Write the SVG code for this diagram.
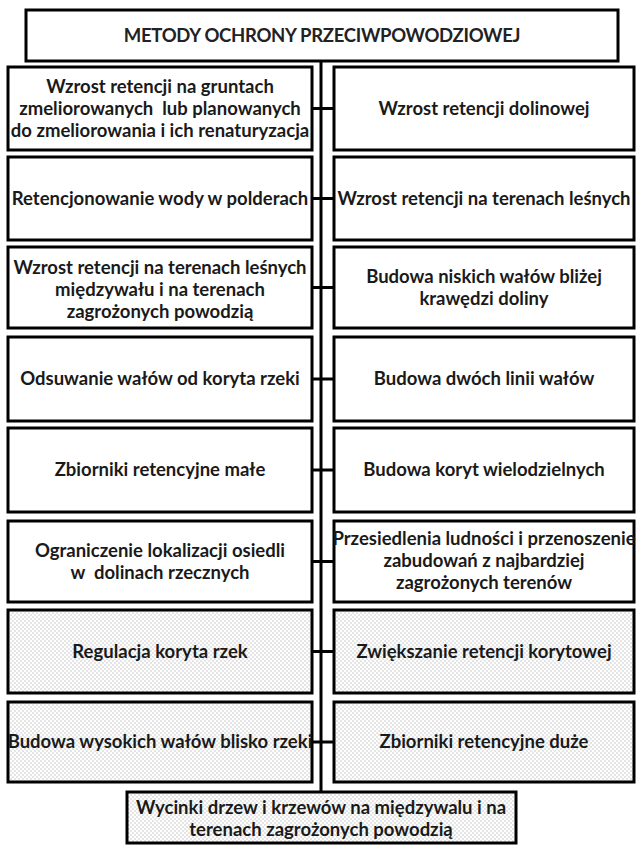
<svg xmlns="http://www.w3.org/2000/svg" width="640" height="848" viewBox="0 0 640 848">
<defs>
<pattern id="dots" width="4" height="4" patternUnits="userSpaceOnUse">
<rect width="4" height="4" fill="#ffffff"/>
<circle cx="1" cy="1" r="0.7" fill="#b8b8b8"/>
<circle cx="3" cy="3" r="0.7" fill="#b8b8b8"/>
</pattern>
</defs>
<style>
.box{fill:#ffffff;stroke:#000;stroke-width:3}
.dot{fill:url(#dots);stroke:#000;stroke-width:3}
.t{font-family:Lato,"Open Sans","Liberation Sans",sans-serif;font-weight:bold;font-size:18.5px;fill:#1a1a1a;text-anchor:middle;white-space:pre}
.title{font-family:Lato,"Open Sans","Liberation Sans",sans-serif;font-weight:bold;font-size:18.5px;fill:#222;text-anchor:middle;letter-spacing:-0.3px}
.c{stroke:#000;stroke-width:3;fill:none}
</style>
<g id="connectors">
<line class="c" x1="321" y1="61" x2="321" y2="792"/>
<line class="c" x1="312" y1="108.5" x2="334" y2="108.5"/>
<line class="c" x1="312" y1="198.5" x2="334" y2="198.5"/>
<line class="c" x1="312" y1="287.5" x2="334" y2="287.5"/>
<line class="c" x1="312" y1="379" x2="334" y2="379"/>
<line class="c" x1="312" y1="470" x2="334" y2="470"/>
<line class="c" x1="312" y1="561.5" x2="334" y2="561.5"/>
<line class="c" x1="312" y1="651.5" x2="334" y2="651.5"/>
<line class="c" x1="312" y1="742" x2="334" y2="742"/>
</g>
<g id="title">
<rect class="box" x="26" y="10" width="592" height="51"/>
<text class="title" x="322" y="42">METODY OCHRONY PRZECIWPOWODZIOWEJ</text>
</g>
<g id="n1L">
<rect class="box" x="8" y="67" width="304" height="83"/>
<text class="t" x="160" y="93">Wzrost retencji na gruntach</text>
<text class="t" x="160" y="115">zmeliorowanych  lub planowanych</text>
<text class="t" x="160" y="137">do zmeliorowania i ich renaturyzacja</text>
</g>
<g id="n1R">
<rect class="box" x="334" y="67" width="300" height="83"/>
<text class="t" x="484" y="115">Wzrost retencji dolinowej</text>
</g>
<g id="n2L">
<rect class="box" x="8" y="157" width="304" height="83"/>
<text class="t" x="160" y="205">Retencjonowanie wody w polderach</text>
</g>
<g id="n2R">
<rect class="box" x="334" y="157" width="300" height="83"/>
<text class="t" x="484" y="205">Wzrost retencji na terenach leśnych</text>
</g>
<g id="n3L">
<rect class="box" x="8" y="247" width="304" height="81"/>
<text class="t" x="160" y="274">Wzrost retencji na terenach leśnych</text>
<text class="t" x="160" y="296">międzywału i na terenach</text>
<text class="t" x="160" y="318">zagrożonych powodzią</text>
</g>
<g id="n3R">
<rect class="box" x="334" y="247" width="300" height="81"/>
<text class="t" x="484" y="283">Budowa niskich wałów bliżej</text>
<text class="t" x="484" y="305">krawędzi doliny</text>
</g>
<g id="n4L">
<rect class="box" x="8" y="337" width="304" height="84"/>
<text class="t" x="160" y="385">Odsuwanie wałów od koryta rzeki</text>
</g>
<g id="n4R">
<rect class="box" x="334" y="337" width="300" height="84"/>
<text class="t" x="484" y="385">Budowa dwóch linii wałów</text>
</g>
<g id="n5L">
<rect class="box" x="8" y="428" width="304" height="84"/>
<text class="t" x="160" y="476">Zbiorniki retencyjne małe</text>
</g>
<g id="n5R">
<rect class="box" x="334" y="428" width="300" height="84"/>
<text class="t" x="484" y="476">Budowa koryt wielodzielnych</text>
</g>
<g id="n6L">
<rect class="box" x="8" y="521" width="304" height="81"/>
<text class="t" x="160" y="557">Ograniczenie lokalizacji osiedli</text>
<text class="t" x="160" y="579">w  dolinach rzecznych</text>
</g>
<g id="n6R">
<rect class="box" x="334" y="521" width="300" height="81"/>
<text class="t" x="484" y="545">Przesiedlenia ludności i przenoszenie</text>
<text class="t" x="484" y="567">zabudowań z najbardziej</text>
<text class="t" x="484" y="589">zagrożonych terenów</text>
</g>
<g id="n7L">
<rect class="dot" x="8" y="610" width="304" height="83"/>
<text class="t" x="160" y="658">Regulacja koryta rzek</text>
</g>
<g id="n7R">
<rect class="dot" x="334" y="610" width="300" height="83"/>
<text class="t" x="484" y="658">Zwiększanie retencji korytowej</text>
</g>
<g id="n8L">
<rect class="dot" x="8" y="702" width="304" height="80"/>
<text class="t" x="160" y="748">Budowa wysokich wałów blisko rzeki</text>
</g>
<g id="n8R">
<rect class="dot" x="334" y="702" width="300" height="80"/>
<text class="t" x="484" y="748">Zbiorniki retencyjne duże</text>
</g>
<g id="n9">
<rect class="dot" x="127" y="792" width="389" height="51"/>
<text class="t" x="321" y="814">Wycinki drzew i krzewów na międzywalu i na</text>
<text class="t" x="321" y="836">terenach zagrożonych powodzią</text>
</g>
</svg>
